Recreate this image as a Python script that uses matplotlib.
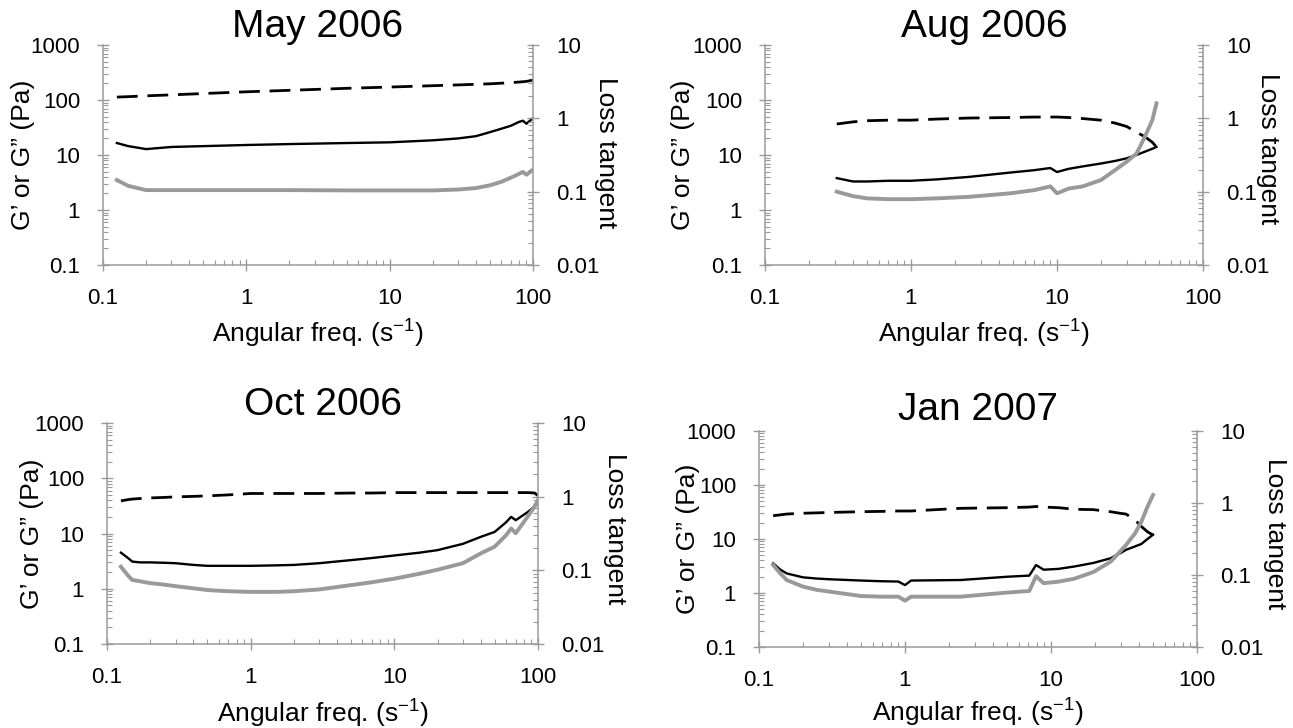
import matplotlib as mpl
mpl.use('Agg')
import matplotlib.pyplot as plt
from matplotlib.ticker import FuncFormatter, NullFormatter, LogLocator

plt.rcParams['font.family'] = ['Liberation Sans', 'DejaVu Sans']
plt.rcParams['mathtext.fontset'] = 'custom'
plt.rcParams['mathtext.rm'] = 'Liberation Sans'
plt.rcParams['lines.scale_dashes'] = False

# May 2006
may_freq = [0.125, 0.15, 0.2, 0.3, 0.5, 1, 2, 5, 10, 20, 30, 40, 50, 60, 70, 80, 85, 90, 100]
may_gp = [113, 115, 119, 124, 131, 141, 150, 163, 172, 182, 188, 193, 197, 202, 207, 212, 215, 218, 230]
may_gpp = [16.5, 14.5, 12.8, 14, 14.5, 15.2, 15.8, 16.5, 17, 18.5, 20, 22, 26, 30, 34, 40, 42, 37, 47]
may_tan = [0.144, 0.12, 0.105, 0.105, 0.105, 0.105, 0.105, 0.104, 0.104, 0.104, 0.107, 0.112,
           0.122, 0.136, 0.155, 0.175, 0.186, 0.17, 0.2]

# Aug 2006
aug_freq = [0.31, 0.4, 0.5, 0.7, 1, 1.5, 2.5, 4.8, 7, 9, 10, 12, 15, 20, 25, 30, 35, 40, 45, 48]
aug_gp = [36.6, 40, 42, 43, 43, 45, 47, 48, 49, 49, 49, 48, 46, 43, 38, 33, 26, 21.5, 17, 14]
aug_gpp = [3.8, 3.3, 3.3, 3.4, 3.4, 3.6, 4.0, 4.8, 5.3, 5.8, 4.9, 5.6, 6.2, 7.0, 7.8, 8.7, 10, 11.5, 13, 14]
aug_tan = [0.1, 0.087, 0.081, 0.079, 0.079, 0.081, 0.085, 0.095, 0.105, 0.118, 0.095, 0.11, 0.118,
           0.144, 0.197, 0.256, 0.33, 0.56, 0.95, 1.6]

# Oct 2006
oct_freq = [0.125, 0.14, 0.15, 0.17, 0.2, 0.25, 0.3, 0.4, 0.5, 0.7, 1, 1.5, 2, 3, 5, 7, 10, 15,
            20, 30, 40, 50, 60, 65, 70, 85, 95, 100]
oct_gp = [39, 41, 42, 43, 44, 45, 46, 47, 48, 50, 53, 53, 53, 53, 54, 54, 55, 55,
          55, 55, 55, 55, 55, 55, 55, 55, 54, 48]
oct_gpp = [4.5, 3.6, 3.1, 3.0, 3.0, 2.95, 2.9, 2.7, 2.6, 2.6, 2.6, 2.65, 2.7, 2.9, 3.3, 3.6, 4.0, 4.5,
           5.0, 6.5, 8.7, 10.7, 16, 20, 17.4, 24.5, 31, 38]
oct_tan = [0.112, 0.085, 0.074, 0.071, 0.067, 0.064, 0.061, 0.057, 0.054, 0.052, 0.051, 0.051, 0.052,
           0.055, 0.063, 0.069, 0.077, 0.09, 0.102, 0.125, 0.17, 0.21, 0.3, 0.37, 0.32, 0.54, 0.74, 0.9]

# Jan 2007
jan_freq = [0.125, 0.14, 0.155, 0.2, 0.25, 0.3, 0.5, 0.7, 0.9, 1.0, 1.1, 2.4, 5, 7.1, 7.9, 8.9, 11.3,
            14.5, 19.5, 25.6, 29.6, 32.6, 37.7, 41.6, 45.8, 50]
jan_gp = [27, 28, 29, 30, 30.5, 31, 32, 32.5, 33, 33, 33, 37, 38, 39, 40, 39, 38,
          35.5, 35, 32, 30, 29, 22.5, 17, 13.6, 11.8]
jan_gpp = [3.55, 2.7, 2.3, 1.95, 1.85, 1.8, 1.7, 1.65, 1.63, 1.4, 1.7, 1.74, 2.0, 2.1, 3.3, 2.7, 2.8,
           3.1, 3.6, 4.4, 5.4, 6.3, 7.3, 8.1, 10, 12]
jan_tan = [0.138, 0.105, 0.085, 0.069, 0.062, 0.059, 0.051, 0.05, 0.05, 0.044, 0.05, 0.05, 0.057,
           0.06, 0.096, 0.077, 0.081, 0.089, 0.11, 0.153, 0.21, 0.26, 0.38, 0.55, 0.89, 1.29]

W, H = 1293, 728
AXC = '#9a9a9a'
fmt = FuncFormatter(lambda v, p: '%g' % v)


def px_rect(l, t, r, b):
    return [l / W, 1 - b / H, (r - l) / W, (b - t) / H]


def style_axis(axis):
    axis.set_major_locator(LogLocator(base=10))
    axis.set_minor_locator(LogLocator(base=10, subs=range(2, 10)))
    axis.set_major_formatter(fmt)
    axis.set_minor_formatter(NullFormatter())


def panel(fig, rect, title, freq, gp, gpp, tan, tpad, ylx, rlx, rly, xly):
    ax = fig.add_axes(rect)
    ax.plot(freq, gp, color='black', lw=2.0, dashes=(15, 7))
    ax.plot(freq, gpp, color='black', lw=1.7)
    ax.set_xscale('log')
    ax.set_yscale('log')
    ax.set_xlim(0.1, 100)
    ax.set_ylim(0.1, 1000)
    style_axis(ax.xaxis)
    style_axis(ax.yaxis)

    ax2 = ax.twinx()
    ax2.plot(freq, tan, color='#999999', lw=2.8)
    ax2.set_yscale('log')
    ax2.set_ylim(0.01, 10)
    style_axis(ax2.yaxis)

    for a in (ax, ax2):
        a.tick_params(which='major', direction='inout', length=9, width=1, color=AXC,
                      labelsize=16, pad=12)
        a.tick_params(which='minor', direction='in', length=3.5, width=0.8, color=AXC)
        for s in a.spines.values():
            s.set_visible(False)
            s.set_color(AXC)
            s.set_linewidth(1.1)
    ax.tick_params(axis='y', which='both', right=False)
    ax.tick_params(axis='x', which='both', top=False)
    ax.spines['left'].set_visible(True)
    ax.spines['bottom'].set_visible(True)
    ax2.spines['right'].set_visible(True)

    ax.set_title(title, fontsize=28, pad=tpad)
    ax.set_ylabel('G\u2019 or G\u201d (Pa)', fontsize=19, va='center')
    ax.yaxis.set_label_coords(ylx, 0.5)
    ax.set_xlabel(r'Angular freq. (s$^{\mathregular{-1}}$)', fontsize=19, va='center')
    ax.xaxis.set_label_coords(0.5, xly)
    ax2.set_ylabel('Loss tangent', fontsize=19, rotation=270, va='center')
    ax2.yaxis.set_label_coords(rlx, rly)
    return ax


fig = plt.figure(figsize=(W / 100, H / 100), dpi=100)

panel(fig, px_rect(103, 45, 533, 265), 'May 2006', may_freq, may_gp, may_gpp, may_tan,
      2, -0.186, 1.170, 0.51, -0.309)
panel(fig, px_rect(765, 45, 1203, 265), 'Aug 2006', aug_freq, aug_gp, aug_gpp, aug_tan,
      2, -0.187, 1.148, 0.527, -0.309)
panel(fig, px_rect(107, 423, 538, 644), 'Oct 2006', oct_freq, oct_gp, oct_gpp, oct_tan,
      2, -0.174, 1.179, 0.52, -0.308)
panel(fig, px_rect(759, 431, 1197, 647), 'Jan 2007', jan_freq, jan_gp, jan_gpp, jan_tan,
      8, -0.162, 1.178, 0.523, -0.30)

plt.savefig('out.png', dpi=100)
